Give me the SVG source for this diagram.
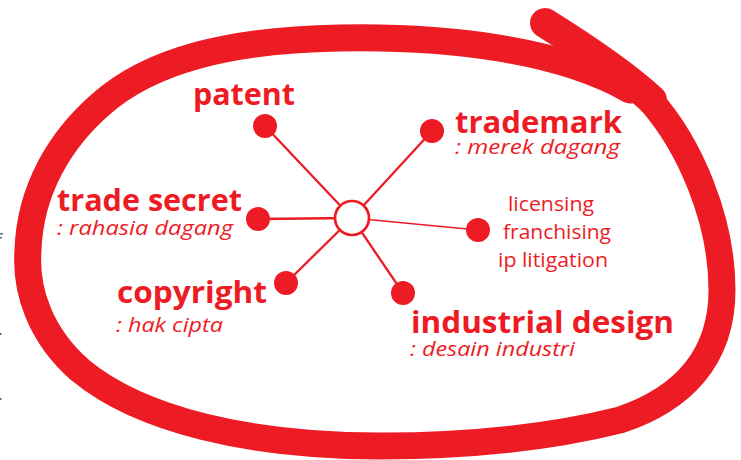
<svg xmlns="http://www.w3.org/2000/svg" width="741" height="460" viewBox="0 0 741 460">
<style>
.loop{fill:none;stroke:#ED1C24;stroke-width:27;stroke-linecap:round;stroke-linejoin:round}
.spoke{stroke:#ED1C24;stroke-width:2.3}
.dot{fill:#ED1C24}
.b{font-family:"Open Sans","Noto Sans",sans-serif;font-weight:bold;font-size:31px;fill:#ED1C24}
.i{font-family:"Open Sans","Noto Sans",sans-serif;font-style:italic;font-size:20px;fill:#ED1C24}
.r{font-family:"Open Sans","Noto Sans",sans-serif;font-size:20px;fill:#ED1C24}
.mark{fill:#666}
</style>
<rect width="741" height="460" fill="#fff"/>
<g id="loop">
<path class="loop" d="M650,100 C690,145 722,220 722,290 C722,360 680,400 620,420 C540,440 460,446 380,446 C250,446 140,420 80,370 C40,335 25,290 28,250 C30,190 60,140 100,105 C150,60 230,40 340,38 C450,36 560,50 630,90"/>
<path class="loop" style="stroke-width:30" d="M545,23 C585,48 625,75 652,100"/>
</g>
<g id="marks">
<rect class="mark" x="0" y="233" width="3" height="1.5"/>
<rect class="mark" x="0" y="237" width="2" height="1.5"/>
<rect class="mark" x="0" y="333" width="1.5" height="2"/>
<rect class="mark" x="0" y="398" width="1.5" height="2"/>
</g>
<g id="connectors">
<line class="spoke" x1="352" y1="218" x2="265" y2="126"/>
<line class="spoke" x1="352" y1="218" x2="432" y2="131"/>
<line class="spoke" x1="352" y1="218" x2="258" y2="219"/>
<line class="spoke" x1="352" y1="218" x2="478" y2="230" style="stroke-width:1.6"/>
<line class="spoke" x1="352" y1="218" x2="286" y2="283"/>
<line class="spoke" x1="352" y1="218" x2="403" y2="293"/>
</g>
<g id="center">
<circle cx="352" cy="218" r="17" fill="#fff" stroke="#ED1C24" stroke-width="2.7"/>
</g>
<g id="patent">
<circle class="dot" cx="265" cy="126" r="12"/>
<text class="b" x="193" y="105" textLength="102" lengthAdjust="spacingAndGlyphs">patent</text>
</g>
<g id="trademark">
<circle class="dot" cx="432" cy="131" r="12"/>
<text class="b" x="455" y="133" textLength="167" lengthAdjust="spacingAndGlyphs">trademark</text>
<text class="i" x="455" y="154" textLength="165" lengthAdjust="spacingAndGlyphs">: merek dagang</text>
</g>
<g id="trade-secret">
<circle class="dot" cx="258" cy="219" r="12"/>
<text class="b" x="57" y="211" textLength="185" lengthAdjust="spacingAndGlyphs">trade secret</text>
<text class="i" x="57" y="235" textLength="176" lengthAdjust="spacingAndGlyphs">: rahasia dagang</text>
</g>
<g id="licensing">
<circle class="dot" cx="478" cy="230" r="12"/>
<text class="r" x="508" y="211" textLength="86" lengthAdjust="spacingAndGlyphs">licensing</text>
<text class="r" x="503" y="239" textLength="108" lengthAdjust="spacingAndGlyphs">franchising</text>
<text class="r" x="498" y="267" textLength="110" lengthAdjust="spacingAndGlyphs">ip litigation</text>
</g>
<g id="copyright">
<circle class="dot" cx="286" cy="283" r="12"/>
<text class="b" x="117" y="303" textLength="150" lengthAdjust="spacingAndGlyphs">copyright</text>
<text class="i" x="116" y="332" textLength="107" lengthAdjust="spacingAndGlyphs">: hak cipta</text>
</g>
<g id="industrial-design">
<circle class="dot" cx="403" cy="293" r="12"/>
<text class="b" x="411" y="333" textLength="263" lengthAdjust="spacingAndGlyphs">industrial design</text>
<text class="i" x="410" y="356" textLength="165" lengthAdjust="spacingAndGlyphs">: desain industri</text>
</g>
</svg>
